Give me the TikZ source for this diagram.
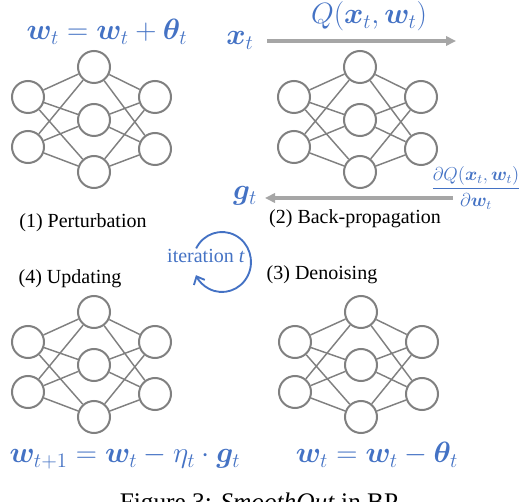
\RequirePackage{fix-cm}
\documentclass[tikz,border=0pt]{standalone}
\usepackage{amsmath,bm}
\usepackage{fontspec}
\setmainfont{Liberation Serif}
\usetikzlibrary{arrows.meta,positioning}
\definecolor{nnGray}{HTML}{808080}
\definecolor{flowGray}{HTML}{A6A6A6}
\definecolor{eqBlue}{HTML}{4472C4}
\tikzset{
  neuron/.style={circle, draw=nnGray, line width=1.5pt, minimum size=24pt, inner sep=0pt},
  link/.style={draw=nnGray, line width=1.1pt},
  flow/.style={draw=flowGray, line width=2.3pt, -{Triangle[length=7.5pt, width=7pt]}},
  eq/.style={text=eqBlue, inner sep=0pt, anchor=base, font=\fontsize{22}{26}\selectfont},
  lbl/.style={inner sep=0pt, anchor=base, font=\fontsize{15}{18}\selectfont},
  loopy/.style={draw=eqBlue, line width=1.4pt, -{Straight Barb[length=5pt, width=9pt]}},
}
% small network: name, x, y of the middle neuron
\newcommand{\nnet}[3]{%
  \begin{scope}[shift={(#2,#3)}]
    \foreach \i/\py in {1/-23,2/27} \node[neuron] (#1l\i) at (-66,\py) {};
    \foreach \i/\py in {1/-53,2/0,3/52} \node[neuron] (#1m\i) at (0,\py) {};
    \foreach \i/\py in {1/-23,2/29} \node[neuron] (#1r\i) at (61,\py) {};
    \foreach \a in {1,2} \foreach \b in {1,2,3} {
      \draw[link] (#1l\a) -- (#1m\b);
      \draw[link] (#1m\b) -- (#1r\a);
    }
  \end{scope}}

\begin{document}
\begin{tikzpicture}[x=0.75pt, y=-0.75pt]
  \useasboundingbox (0,0) rectangle (522,502);
  % the four networks
  \nnet{p}{94}{120}
  \nnet{b}{360}{120}
  \nnet{u}{94}{365}
  \nnet{d}{361}{365}
  % equations
  \node[eq] (pertEq) at (107,40) {$\bm{w}_t=\bm{w}_t+\bm{\theta}_t$};
  \node[eq] (xin) at (240,45) {$\bm{x}_t$};
  \node[eq] (qOut) at (369,24) {$Q(\bm{x}_t,\bm{w}_t)$};
  \node[eq] (gOut) at (245,200) {$\bm{g}_t$};
  \node[text=eqBlue, inner sep=0pt, font=\fontsize{14}{16}\selectfont] (dQ) at (476,188)
    {$\dfrac{\partial Q(\bm{x}_t,\bm{w}_t)}{\partial \bm{w}_t}$};
  \node[eq] (updEq) at (125,463) {$\bm{w}_{t+1}=\bm{w}_t-\eta_t\cdot\bm{g}_t$};
  \node[eq] (denEq) at (377,463) {$\bm{w}_t=\bm{w}_t-\bm{\theta}_t$};
  % step labels
  \node[lbl] (pertLbl) at (83,228) {(1) Perturbation};
  \node[lbl] (bpLbl) at (355,224) {(2) Back-propagation};
  \node[lbl] (denLbl) at (322,280) {(3) Denoising};
  \node[lbl] (updLbl) at (70,284) {(4) Updating};
  \node[lbl, text=eqBlue] (iterLbl) at (206,263) {iteration \textit{t}};
  \node[inner sep=0pt, anchor=base, font=\fontsize{19}{22}\selectfont] (cap) at (259,511)
    {Figure 3: \textit{SmoothOut} in BP};
  % forward and backward passes
  \coordinate (fwdS) at (267,41);
  \coordinate (fwdE) at (456,41);
  \coordinate (bwdS) at (453,198);
  \coordinate (bwdE) at (265,198);
  \draw[flow] (fwdS) -- (fwdE);
  \draw[flow] (bwdS) -- (bwdE);
  % loop round the iteration label
  \coordinate (iterC) at (222,262);
  \draw[loopy] ([shift={(-153:29 and 30)}]iterC) arc[start angle=-153, end angle=154, x radius=29, y radius=30];
\end{tikzpicture}
\end{document}
